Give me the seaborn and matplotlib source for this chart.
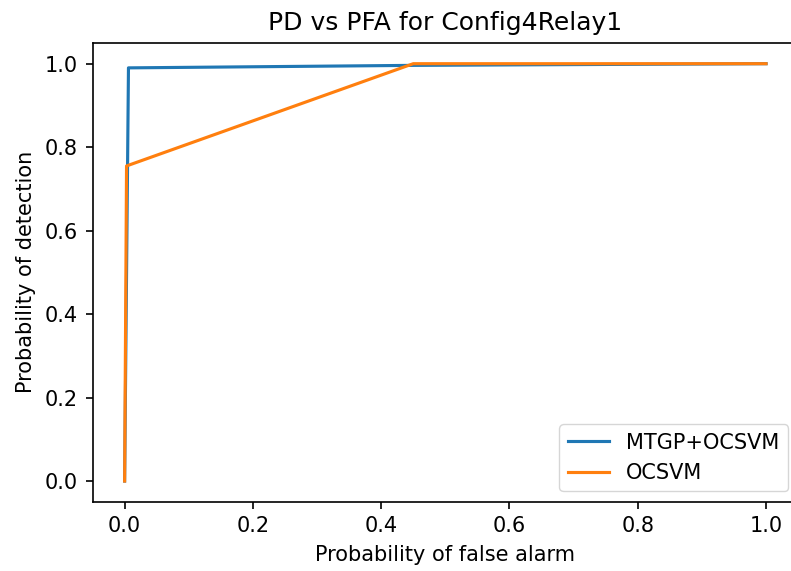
import pandas as pd
import numpy as np
import matplotlib.pyplot as plt
import seaborn as sns

# ROC points
pfa_mtgp = [0.0, 0.006, 0.45, 1.0]
pd_mtgp = [0.0, 0.99, 0.996, 1.0]

pfa_ocsvm = [0.0, 0.003, 0.45, 1.0]
pd_ocsvm = [0.0, 0.755, 1.0, 1.0]

df = pd.concat([
    pd.DataFrame({"pfa": pfa_mtgp, "pd": pd_mtgp, "method": "MTGP+OCSVM"}),
    pd.DataFrame({"pfa": pfa_ocsvm, "pd": pd_ocsvm, "method": "OCSVM"}),
])

# the reference looks like the default style blown up ~1.5x
plt.rcParams.update({
    "axes.linewidth": 1.2,
    "xtick.major.size": 5.25, "ytick.major.size": 5.25,
    "xtick.major.width": 1.2, "ytick.major.width": 1.2,
    "xtick.major.pad": 5.25, "ytick.major.pad": 5.25,
    "axes.labelpad": 6, "axes.titlepad": 9,
})

fig, ax = plt.subplots(figsize=(7.91, 5.71), dpi=100)
sns.lineplot(data=df, x="pfa", y="pd", hue="method", sort=False,
             palette=["#1f77b4", "#ff7f0e"], linewidth=2.25, ax=ax)
ax.set_title("PD vs PFA for Config4Relay1", fontsize=18)
ax.set_xlabel("Probability of false alarm", fontsize=15)
ax.set_ylabel("Probability of detection", fontsize=15)
ax.tick_params(labelsize=15)
ax.legend(loc="lower right", fontsize=15)
# axes run a bit past the right edge, like the reference crop
fig.subplots_adjust(left=0.117, right=1.009, top=0.925, bottom=0.121)
fig.savefig("out.png")
